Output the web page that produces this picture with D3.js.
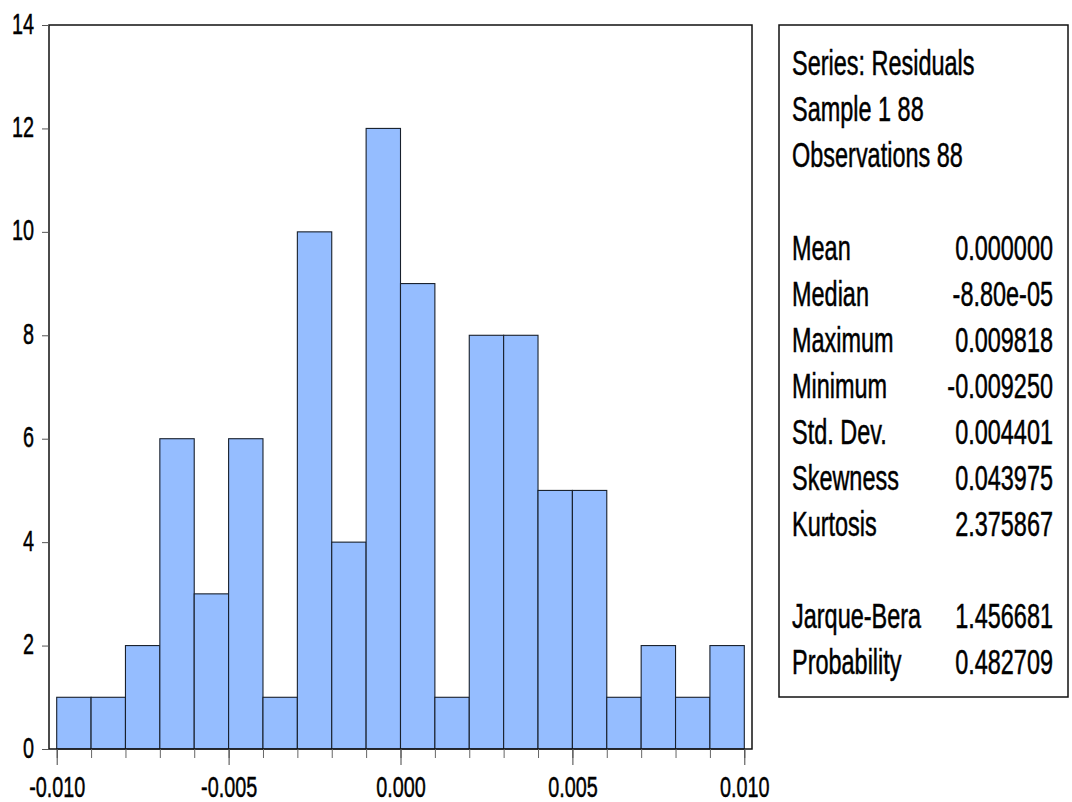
<!DOCTYPE html>
<html>
<head>
<meta charset="utf-8">
<script src="https://cdn.jsdelivr.net/npm/d3@7"></script>
<style>
  body { margin: 0; background: #fff; }
  svg { display: block; }
  text { font-family: "Liberation Sans", Arial, sans-serif; fill: #000; stroke: #000; stroke-width: 0.5px; }
</style>
</head>
<body>
<div id="chart"></div>
<script>
// histogram bins (lower edge) and counts
var binLow = [-0.010, -0.009, -0.008, -0.007, -0.006, -0.005, -0.004, -0.003, -0.002, -0.001,
              0.000, 0.001, 0.002, 0.003, 0.004, 0.005, 0.006, 0.007, 0.008, 0.009];
var binWidth = 0.001;
var counts = [1, 1, 2, 6, 3, 6, 1, 10, 4, 12, 9, 1, 8, 8, 5, 5, 1, 2, 1, 2];

var xMajor = [-0.010, -0.005, 0.000, 0.005, 0.010];
var xMajorLabels = ["-0.010", "-0.005", "0.000", "0.005", "0.010"];
var yTicks = [0, 2, 4, 6, 8, 10, 12, 14];

var statHeader = ["Series: Residuals", "Sample 1 88", "Observations 88"];
var statNames = ["Mean", "Median", "Maximum", "Minimum", "Std. Dev.", "Skewness", "Kurtosis"];
var statValues = ["0.000000", "-8.80e-05", "0.009818", "-0.009250", "0.004401", "0.043975", "2.375867"];
var testNames = ["Jarque-Bera", "Probability"];
var testValues = ["1.456681", "0.482709"];

var W = 1072, H = 802;
var squeeze = 0.68;      // text is horizontally condensed in the original
var axisSqueeze = 0.66;

var svg = d3.select("#chart").append("svg")
    .attr("width", W)
    .attr("height", H);

var x = d3.scaleLinear().domain([-0.010, 0.010]).range([56.7, 744.3]);
var y = d3.scaleLinear().domain([0, 14]).range([749, 25]);

var frame = {left: 49, right: 752, top: 25, bottom: 749};

// bars
svg.append("g").selectAll("rect")
    .data(counts)
    .enter().append("rect")
    .attr("x", function (d, i) { return x(binLow[i]); })
    .attr("y", function (d) { return y(d); })
    .attr("width", function (d, i) { return x(binLow[i] + binWidth) - x(binLow[i]); })
    .attr("height", function (d) { return y(0) - y(d); })
    .attr("fill", "#95bdff")
    .attr("stroke", "#18202c")
    .attr("stroke-width", 1.1);

// plot frame
svg.append("rect")
    .attr("x", frame.left)
    .attr("y", frame.top)
    .attr("width", frame.right - frame.left)
    .attr("height", frame.bottom - frame.top)
    .attr("fill", "none")
    .attr("stroke", "#111")
    .attr("stroke-width", 1.5);

// x axis: minor ticks at bin edges, major ticks with labels
var edges = binLow.concat([binLow[binLow.length - 1] + binWidth]);
var xMinor = d3.axisBottom(x).tickValues(edges).tickSize(9).tickFormat("");
var gMinor = svg.append("g")
    .attr("transform", "translate(0," + frame.bottom + ")")
    .call(xMinor);
gMinor.select(".domain").remove();
gMinor.selectAll("line").attr("stroke", "#666");

var xAxis = d3.axisBottom(x)
    .tickValues(xMajor)
    .tickSize(16)
    .tickFormat(function (d, i) { return xMajorLabels[i]; });
var gx = svg.append("g")
    .attr("transform", "translate(0," + frame.bottom + ")")
    .call(xAxis);
gx.select(".domain").remove();
gx.selectAll("line").attr("stroke", "#444");
gx.selectAll("text")
    .attr("y", 0).attr("dy", 0)
    .attr("font-size", 30)
    .attr("transform", "translate(0,48) scale(" + axisSqueeze + ",1)");

// y axis
var yAxis = d3.axisLeft(y).tickValues(yTicks).tickSize(7);
var gy = svg.append("g")
    .attr("transform", "translate(" + frame.left + ",0)")
    .call(yAxis);
gy.select(".domain").remove();
gy.selectAll("line").attr("stroke", "#555");
gy.selectAll("text")
    .attr("x", 0).attr("dy", 0)
    .attr("font-size", 30)
    .attr("transform", "translate(-15,8) scale(" + axisSqueeze + ",1)");

// statistics box
var box = {left: 779, right: 1068, top: 25, bottom: 697};
svg.append("rect")
    .attr("x", box.left)
    .attr("y", box.top)
    .attr("width", box.right - box.left)
    .attr("height", box.bottom - box.top)
    .attr("fill", "#fff")
    .attr("stroke", "#111")
    .attr("stroke-width", 1.5);

var lineH = 46;
var labelX = 792, valueX = 1053;

function putText(txt, px, py, anchor) {
    svg.append("text")
        .attr("transform", "translate(" + px + "," + py + ") scale(" + squeeze + ",1)")
        .attr("text-anchor", anchor)
        .attr("font-size", 34.5)
        .text(txt);
}

statHeader.forEach(function (t, i) {
    putText(t, labelX, 75 + i * lineH, "start");
});
statNames.forEach(function (t, i) {
    putText(t, labelX, 260 + i * lineH, "start");
    putText(statValues[i], valueX, 260 + i * lineH, "end");
});
testNames.forEach(function (t, i) {
    putText(t, labelX, 628 + i * lineH, "start");
    putText(testValues[i], valueX, 628 + i * lineH, "end");
});
</script>
</body>
</html>
